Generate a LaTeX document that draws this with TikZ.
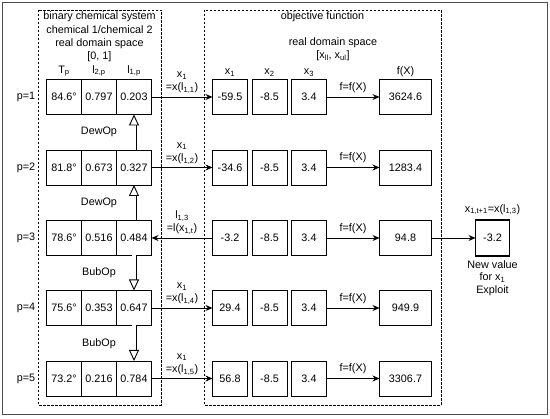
\documentclass[tikz,border=0pt]{standalone}
\usepackage{fontspec}
\setmainfont{Liberation Sans}
\usetikzlibrary{positioning, arrows.meta, calc}

\begin{document}
\begin{tikzpicture}[
      x=1pt, y=-1pt,
      node distance=0pt,
      font=\fontsize{10.8}{13.3}\selectfont,
      >={Stealth[length=7pt, width=6pt]},
      cell/.style={rectangle, draw, line width=0.9pt, minimum width=35pt, minimum height=35pt, inner sep=0pt, outer sep=0pt},
      wide/.style={cell, minimum width=52pt},
      result/.style={cell, minimum width=34pt, minimum height=36pt, line width=1.8pt},
      region/.style={draw, line width=0.9pt, dash pattern=on 2.5pt off 1.5pt},
      flow/.style={->, line width=0.9pt},
      opflow/.style={double, double distance=3.2pt, line width=0.9pt, -{Triangle[open, fill=white, length=11pt, width=10pt, line width=0.9pt]}},
      lbl/.style={inner sep=0pt, align=center}
  ]
  \useasboundingbox (0,0) rectangle (550,419);

  % Frames
  \draw[line width=0.9pt, black!70] (2.5,2.5) rectangle (547.5,414);
  \draw[region] (38,10) rectangle (161,405);
  \draw[region] (204,10) rectangle (441,405);

  % Titles
  \node[lbl] (sysTitle) at (99.5,37) {binary chemical system\\chemical 1/chemical 2\\real domain space\\{[0, 1]}};
  \node[lbl] (objTitle) at (322.5,17) {objective function};
  \node[lbl] (domTitle) at (333,49) {real domain space\\{[x\textsubscript{ll}, x\textsubscript{ul}]}};

  % Row p=1
  \node[cell] (t1) at (64,97) {84.6°};
  \node[cell, right=of t1] (m1) {0.797};
  \node[cell, right=of m1] (n1) {0.203};
  \node[cell, right=61pt of n1] (xa1) {-59.5};
  \node[cell, right=4.5pt of xa1] (xb1) {-8.5};
  \node[cell, right=4.5pt of xb1] (xc1) {3.4};
  \node[wide, right=53pt of xc1] (f1) {3624.6};

  % Row p=2
  \node[cell] (t2) at (64,167.5) {81.8°};
  \node[cell, right=of t2] (m2) {0.673};
  \node[cell, right=of m2] (n2) {0.327};
  \node[cell, right=61pt of n2] (xa2) {-34.6};
  \node[cell, right=4.5pt of xa2] (xb2) {-8.5};
  \node[cell, right=4.5pt of xb2] (xc2) {3.4};
  \node[wide, right=53pt of xc2] (f2) {1283.4};

  % Row p=3
  \node[cell] (t3) at (64,238) {78.6°};
  \node[cell, right=of t3] (m3) {0.516};
  \node[cell, right=of m3] (n3) {0.484};
  \node[cell, right=61pt of n3] (xa3) {-3.2};
  \node[cell, right=4.5pt of xa3] (xb3) {-8.5};
  \node[cell, right=4.5pt of xb3] (xc3) {3.4};
  \node[wide, right=53pt of xc3] (f3) {94.8};
  \node[result, right=44pt of f3] (xnew) {-3.2};

  % Row p=4
  \node[cell] (t4) at (64,308) {75.6°};
  \node[cell, right=of t4] (m4) {0.353};
  \node[cell, right=of m4] (n4) {0.647};
  \node[cell, right=61pt of n4] (xa4) {29.4};
  \node[cell, right=4.5pt of xa4] (xb4) {-8.5};
  \node[cell, right=4.5pt of xb4] (xc4) {3.4};
  \node[wide, right=53pt of xc4] (f4) {949.9};

  % Row p=5
  \node[cell] (t5) at (64,378.5) {73.2°};
  \node[cell, right=of t5] (m5) {0.216};
  \node[cell, right=of m5] (n5) {0.784};
  \node[cell, right=61pt of n5] (xa5) {56.8};
  \node[cell, right=4.5pt of xa5] (xb5) {-8.5};
  \node[cell, right=4.5pt of xb5] (xc5) {3.4};
  \node[wide, right=53pt of xc5] (f5) {3306.7};

  % Column heads and row labels
  \node[lbl, above=3pt of t1] (hT) {T\textsubscript{p}};
  \node[lbl, above=3pt of m1] (hM) {l\textsubscript{2,p}};
  \node[lbl, above=3pt of n1] (hN) {l\textsubscript{1,p}};
  \node[lbl, above=3pt of xa1] (hXa) {x\textsubscript{1}};
  \node[lbl, above=3pt of xb1] (hXb) {x\textsubscript{2}};
  \node[lbl, above=3pt of xc1] (hXc) {x\textsubscript{3}};
  \node[lbl, above=3pt of f1] (hF) {f(X)};
  \node[lbl] (p1) at (26,97) {p=1};
  \node[lbl] (p2) at (26,167.5) {p=2};
  \node[lbl] (p3) at (26,238) {p=3};
  \node[lbl] (p4) at (26,308) {p=4};
  \node[lbl] (p5) at (26,378.5) {p=5};

  % Mapping arrows
  \draw[flow] (n1) -- node[lbl, above=3pt] {x\textsubscript{1}\\=x(l\textsubscript{1,1})} (xa1);
  \draw[flow] (n2) -- node[lbl, above=3pt] {x\textsubscript{1}\\=x(l\textsubscript{1,2})} (xa2);
  \draw[flow] (xa3) -- node[lbl, above=3pt] {l\textsubscript{1,3}\\=l(x\textsubscript{1,t})} (n3);
  \draw[flow] (n4) -- node[lbl, above=3pt] {x\textsubscript{1}\\=x(l\textsubscript{1,4})} (xa4);
  \draw[flow] (n5) -- node[lbl, above=3pt] {x\textsubscript{1}\\=x(l\textsubscript{1,5})} (xa5);
  \draw[flow] (xc1) -- node[lbl, above=4pt] {f=f(X)} (f1);
  \draw[flow] (xc2) -- node[lbl, above=4pt] {f=f(X)} (f2);
  \draw[flow] (xc3) -- node[lbl, above=4pt] {f=f(X)} (f3);
  \draw[flow] (xc4) -- node[lbl, above=4pt] {f=f(X)} (f4);
  \draw[flow] (xc5) -- node[lbl, above=4pt] {f=f(X)} (f5);
  \draw[flow] (f3) -- (xnew);

  % New value
  \node[lbl, above=5pt of xnew] (newHead) {x\textsubscript{1,t+1}=x(l\textsubscript{1,3})};
  \node[lbl, below=4pt of xnew, font=\fontsize{10.8}{12.5}\selectfont] (newNote) {New value\\for x\textsubscript{1}\\Exploit};

  % Operators
  \draw[opflow] (n2) -- (n1);
  \draw[opflow] (n3) -- (n2);
  \draw[opflow] (n3) -- (n4);
  \draw[opflow] (n4) -- (n5);
  \node[lbl] (dew1) at ($(m1)!0.5!(m2)$) {DewOp};
  \node[lbl] (dew2) at ($(m2)!0.5!(m3)$) {DewOp};
  \node[lbl] (bub1) at ($(m3)!0.5!(m4)$) {BubOp};
  \node[lbl] (bub2) at ($(m4)!0.5!(m5)$) {BubOp};

\end{tikzpicture}
\end{document}
